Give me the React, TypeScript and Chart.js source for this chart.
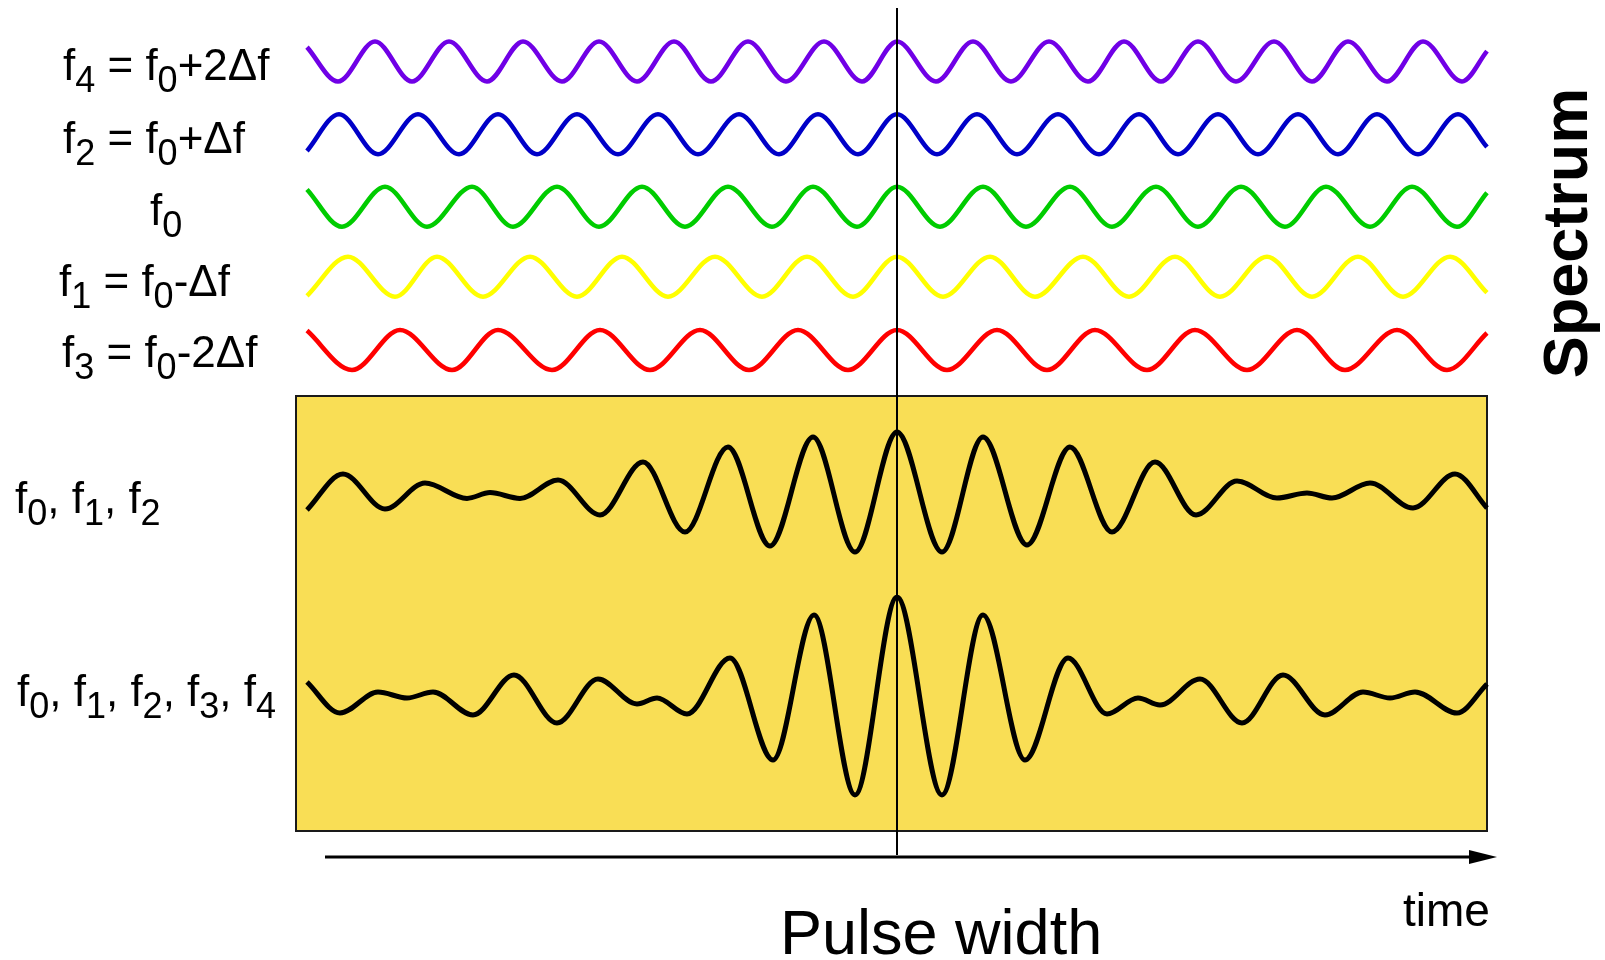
import React, { useEffect, useRef } from "react";
import { Chart, registerables } from "chart.js";

Chart.register(...registerables);

// ---------- data (time in arbitrary units, 0 = pulse centre; amplitude in units of one component wave) ----------
const f4Times = [-590, -559, -522, -485, -448, -410, -374, -335, -298, -260, -223, -186, -149, -111, -73, -35, 0, 39, 76, 114, 152, 191, 227, 264, 301, 339, 377, 415, 451, 490, 526, 565, 590];
const f4Values = [0.72, -1, 1, -1, 1, -1, 1, -1, 1, -1, 1, -1, 1, -1, 1, -1, 1, -1, 1, -1, 1, -1, 1, -1, 1, -1, 1, -1, 1, -1, 1, -1, 0.52];

const f2Times = [-590, -558, -519, -479, -438, -399, -360, -320, -279, -239, -199, -158, -118, -79, -39, 0, 40, 80, 120, 161, 202, 242, 281, 321, 361, 401, 441, 480, 521, 561, 590];
const f2Values = [-0.83, 1, -1, 1, -1, 1, -1, 1, -1, 1, -1, 1, -1, 1, -1, 1, -1, 1, -1, 1, -1, 1, -1, 1, -1, 1, -1, 1, -1, 1, -0.64];

const f0Times = [-590, -555, -512, -470, -425, -384, -340, -298, -255, -212, -169, -125, -84, -40, 0, 43, 86, 129, 173, 215, 259, 301, 344, 388, 429, 473, 515, 560, 590];
const f0Values = [0.86, -1, 1, -1, 1, -1, 1, -1, 1, -1, 1, -1, 1, -1, 1, -1, 1, -1, 1, -1, 1, -1, 1, -1, 1, -1, 1, -1, 0.7];

const f1Times = [-590, -549, -502, -460, -414, -367, -320, -275, -229, -182, -135, -90, -44, 0, 46, 93, 138, 186, 232, 278, 323, 370, 415, 461, 506, 553, 590];
const f1Values = [-0.96, 1, -1, 1, -1, 1, -1, 1, -1, 1, -1, 1, -1, 1, -1, 1, -1, 1, -1, 1, -1, 1, -1, 1, -1, 1, -0.8];

const f3Times = [-590, -545, -497, -445, -399, -345, -297, -247, -197, -148, -99, -49, 0, 50, 100, 150, 198, 250, 298, 350, 400, 448, 500, 550, 590];
const f3Values = [0.97, -1, 1, -1, 1, -1, 1, -1, 1, -1, 1, -1, 1, -1, 1, -1, 1, -1, 1, -1, 1, -1, 1, -1, 0.85];

const sum3Times = [-590, -554, -512, -472, -430, -407, -377, -339, -297, -254, -212, -169, -127, -84, -42, 0, 45, 86, 130, 173, 215, 258, 299, 340, 380, 410, 435, 473, 516, 558, 590];
const sum3Values = [-0.9, 0.9, -0.85, 0.45, -0.32, -0.03, -0.32, 0.6, -1.15, 1.5, -2.0, 2.25, -2.7, 2.75, -3.0, 3.0, -3.0, 2.75, -2.65, 2.25, -2.0, 1.5, -1.15, 0.55, -0.3, -0.05, -0.3, 0.45, -0.8, 0.9, -0.8];

const sum5Times = [-590, -557, -519, -490, -464, -424, -383, -340, -299, -260, -240, -210, -167, -124, -83, -42, 0, 45, 86, 128, 171, 210, 241, 263, 303, 345, 386, 428, 466, 493, 518, 560, 590];
const sum5Values = [0.7, -0.85, 0.2, -0.1, 0.2, -0.95, 1.05, -1.35, 0.85, -0.4, -0.1, -0.9, 1.9, -3.2, 4.05, -4.95, 4.95, -4.95, 4.05, -3.2, 1.9, -0.9, -0.1, -0.45, 0.85, -1.35, 1.05, -0.95, 0.2, -0.1, 0.2, -0.85, 0.6];

// label texts: [text, isSubscript]
const labelF4: [string, boolean][] = [["f", false], ["4", true], [" = f", false], ["0", true], ["+2\u0394f", false]];
const labelF2: [string, boolean][] = [["f", false], ["2", true], [" = f", false], ["0", true], ["+\u0394f", false]];
const labelF0: [string, boolean][] = [["f", false], ["0", true]];
const labelF1: [string, boolean][] = [["f", false], ["1", true], [" = f", false], ["0", true], ["-\u0394f", false]];
const labelF3: [string, boolean][] = [["f", false], ["3", true], [" = f", false], ["0", true], ["-2\u0394f", false]];
const labelSum3: [string, boolean][] = [["f", false], ["0", true], [", f", false], ["1", true], [", f", false], ["2", true]];
const labelSum5: [string, boolean][] = [["f", false], ["0", true], [", f", false], ["1", true], [", f", false], ["2", true], [", f", false], ["3", true], [", f", false], ["4", true]];
const titleSpectrum = "Spectrum";
const titlePulse = "Pulse width";
const titleTime = "time";

// ---------- layout ----------
const W = 1605;
const H = 960;
const PX_PER_UNIT = 20;
const FONT = '"Liberation Sans", Arial, Helvetica, sans-serif';

function pts(t: number[], v: number[]) {
  return t.map((x, i) => ({ x, y: v[i] }));
}

function rowScale(centerPx: number) {
  return {
    type: "linear" as const,
    display: false,
    min: (centerPx - H) / PX_PER_UNIT,
    max: centerPx / PX_PER_UNIT,
  };
}

function drawRich(ctx: CanvasRenderingContext2D, parts: [string, boolean][], x: number, y: number, main = 44, sub = 36, drop = 12) {
  let cx = x;
  for (const [txt, isSub] of parts) {
    ctx.font = `${isSub ? sub : main}px ${FONT}`;
    ctx.fillText(txt, cx, isSub ? y + drop : y);
    cx += ctx.measureText(txt).width;
  }
}

const decor = {
  id: "decor",
  beforeDatasetsDraw(chart: any) {
    const { ctx } = chart;
    const x = chart.scales.x;
    const l = x.getPixelForValue(-601);
    const r = x.getPixelForValue(590);
    ctx.save();
    ctx.fillStyle = "#F9DE55";
    ctx.fillRect(l, 396, r - l, 435);
    ctx.lineWidth = 2;
    ctx.strokeStyle = "#1a1a1a";
    ctx.strokeRect(l, 396, r - l, 435);
    ctx.restore();
  },
  afterDatasetsDraw(chart: any) {
    const { ctx } = chart;
    const x = chart.scales.x;
    ctx.save();
    // centre line
    const cx = x.getPixelForValue(0);
    ctx.strokeStyle = "#000";
    ctx.lineWidth = 2;
    ctx.beginPath();
    ctx.moveTo(cx, 8);
    ctx.lineTo(cx, 855);
    ctx.stroke();
    // time arrow
    const a0 = x.getPixelForValue(-572);
    const a1 = x.getPixelForValue(600);
    ctx.lineWidth = 3;
    ctx.beginPath();
    ctx.moveTo(a0, 857);
    ctx.lineTo(a1 - 20, 857);
    ctx.stroke();
    ctx.fillStyle = "#000";
    ctx.beginPath();
    ctx.moveTo(a1, 857);
    ctx.lineTo(a1 - 28, 850);
    ctx.lineTo(a1 - 28, 864);
    ctx.closePath();
    ctx.fill();
    // labels
    ctx.fillStyle = "#000";
    ctx.textAlign = "left";
    ctx.textBaseline = "alphabetic";
    drawRich(ctx, labelF4, 63, 80);
    drawRich(ctx, labelF2, 63, 153);
    drawRich(ctx, labelF0, 150, 225);
    drawRich(ctx, labelF1, 59, 296);
    drawRich(ctx, labelF3, 62, 367);
    drawRich(ctx, labelSum3, 15, 513);
    drawRich(ctx, labelSum5, 17, 706);
    ctx.font = `63px ${FONT}`;
    ctx.fillText(titlePulse, 780, 954);
    ctx.font = `46px ${FONT}`;
    ctx.fillText(titleTime, 1403, 926);
    // Spectrum (vertical)
    ctx.save();
    ctx.translate(1587, 233);
    ctx.rotate(-Math.PI / 2);
    ctx.textAlign = "center";
    ctx.font = `bold 63px ${FONT}`;
    ctx.fillText(titleSpectrum, 0, 0);
    ctx.restore();
    ctx.restore();
  },
};

function line(label: string, data: { x: number; y: number }[], color: string, axis: string, width = 4.6) {
  return {
    label,
    data,
    borderColor: color,
    backgroundColor: color,
    borderWidth: width,
    pointRadius: 0,
    fill: false,
    cubicInterpolationMode: "monotone" as const,
    borderJoinStyle: "round" as const,
    yAxisID: axis,
  };
}

export default function App() {
  const ref = useRef<HTMLCanvasElement>(null);
  useEffect(() => {
    document.body.style.margin = "0";
    const chart = new Chart(ref.current as HTMLCanvasElement, {
      type: "line",
      data: {
        datasets: [
          line("f4", pts(f4Times, f4Values), "#7000E6", "yF4"),
          line("f2", pts(f2Times, f2Values), "#0000C8", "yF2"),
          line("f0", pts(f0Times, f0Values), "#00CC00", "yF0"),
          line("f1", pts(f1Times, f1Values), "#FFFF00", "yF1"),
          line("f3", pts(f3Times, f3Values), "#FF0000", "yF3"),
          line("f0,f1,f2", pts(sum3Times, sum3Values), "#000000", "yS3", 5),
          line("f0..f4", pts(sum5Times, sum5Values), "#000000", "yS5", 5),
        ],
      },
      options: {
        animation: false,
        responsive: false,
        devicePixelRatio: 1,
        events: [],
        layout: { padding: 0 },
        plugins: { legend: { display: false }, tooltip: { enabled: false }, title: { display: false } },
        scales: {
          x: { type: "linear", display: false, min: -897, max: 708 },
          yF4: rowScale(61.5),
          yF2: rowScale(134.3),
          yF0: rowScale(206.7),
          yF1: rowScale(276.7),
          yF3: rowScale(350),
          yS3: rowScale(492),
          yS5: rowScale(696),
        },
      },
      plugins: [decor],
    });
    return () => chart.destroy();
  }, []);
  return (
    <div style={{ width: W, height: H, background: "#fff" }}>
      <canvas ref={ref} width={W} height={H} style={{ display: "block" }} />
    </div>
  );
}
